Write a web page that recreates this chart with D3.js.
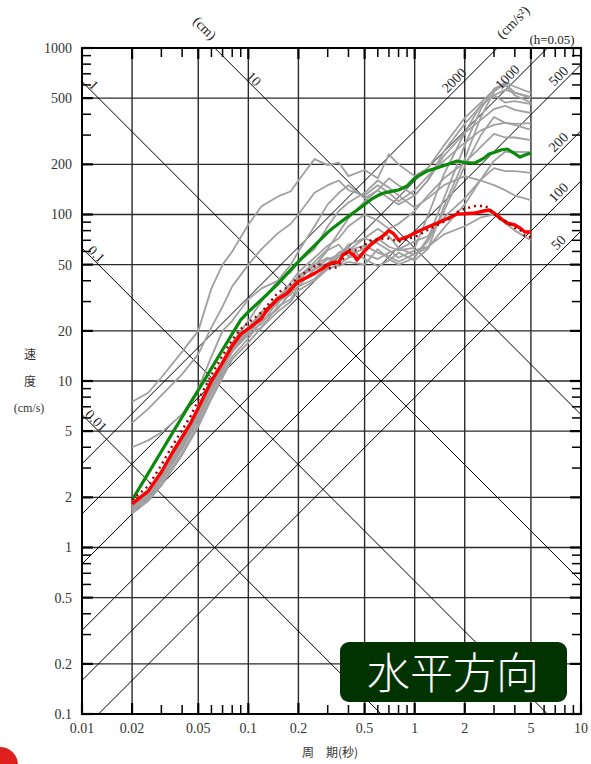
<!DOCTYPE html>
<html><head><meta charset="utf-8">
<script src="https://cdn.jsdelivr.net/npm/d3@7"></script>
<style>body{margin:0;background:#fff}svg{display:block}</style>
</head><body>
<svg id="c" width="591" height="764"></svg>
<script>
// ---------------- data ----------------
const periodsFine = [0.02,0.025,0.03,0.035,0.04,0.045,0.05,0.06,0.07,0.08,0.09,0.1,0.11,0.12,0.13,0.15,0.17,0.2,0.22,0.25,0.28,0.3,0.32,0.35,0.37,0.4,0.43,0.45,0.5,0.55,0.6,0.65,0.7,0.75,0.8,0.9,1.0,1.2,1.4,1.6,1.8,2.0,2.3,2.6,2.8,3.0,3.3,3.6,4.0,4.3,4.6,5.0];
const greenValues = [1.93,2.79,3.77,4.88,6.08,7.40,8.80,11.9,15.4,19.2,23.3,26.0,28.4,30.8,33.2,38.2,43.8,52.1,57.4,65.1,73.0,78.1,82.4,88.3,92.0,97.4,102.8,106.1,114.7,123.6,129.9,134.6,136.7,138.6,140.3,148.3,165.6,183.3,192.1,201.1,209.6,205.3,203.9,217.3,230.8,235.7,244.0,247.4,231.8,221.4,227.7,234.1];
const redValues = [1.83,2.18,2.84,3.72,4.61,5.59,6.88,10.0,12.9,16.3,19.1,20.6,22.2,23.8,26.9,31.1,33.4,39.6,41.4,44.3,47.5,49.9,51.3,51.8,57.1,59.9,57.1,53.3,60.4,66.5,70.8,74.8,80.1,76.4,70.3,73.3,77.4,84.1,89.7,95.3,100.7,101,102,105,106.4,102,94.5,88.9,86.5,83,78.5,78.5];
const dottedValues = [1.93,2.34,3.13,4.10,5.08,6.16,7.69,10.9,14.2,17.7,20.5,22.4,24.1,25.9,28.4,33.8,36.3,41.9,45.0,48.8,50.9,47.9,47.2,49.0,54.0,61.6,60.4,61.2,65.7,70.3,70.8,71.7,71.7,70.3,68.4,71.3,73.2,80.7,87.3,94.0,103.5,108.3,112.4,112.6,109.4,100.6,93.2,90.1,83.0,80.8,74.3,73.2];

const grayPeriods = [0.02,0.025,0.03,0.04,0.05,0.06,0.07,0.08,0.1,0.12,0.15,0.18,0.2,0.25,0.3,0.35,0.4,0.5,0.6,0.7,0.8,1.0,1.2,1.5,2,2.5,3,3.5,4,5];
const gray1 = [1.7,2.0,2.5,3.9,5.8,8.5,11.5,15,19.5,25,29,37,40,50,55,49,52,50,62,54,50,55,72,125,260,430,570,610,540,508];
const gray2 = [1.75,2.05,2.6,4.1,6.0,8.8,12,15.5,20,22,30,33,43,49,61,66,56,63,72,64,61,63,98,175,310,455,520,470,480,460];
const gray3 = [1.65,1.95,2.4,3.7,5.5,8.0,11,14,18,23,27,34,37,47,51,59,63,54,49,53,59,53,62,112,215,385,545,625,585,537];
const gray4 = [1.8,2.1,2.7,4.3,6.4,9.2,12,15,19,21,28,31,37,41,49,56,61,72,82,74,63,57,69,105,195,300,385,355,345,322];
const gray5 = [1.7,2.0,2.55,4.0,6.1,9.0,12.5,16,21,26,31,39,45,55,65,72,85,100,92,82,88,105,130,165,205,255,305,290,290,280];
const gray6 = [1.6,1.9,2.35,3.6,5.3,7.8,10.5,13.5,17,21,26,30,35,40,47,50,55,58,54,59,62,69,74,96,125,162,190,182,182,178];
const gray7 = [1.75,2.1,2.7,4.4,6.6,9.5,12.5,16,20,24,31,35,40,44,51,56,66,72,67,61,55,61,64,76,85,96,100,89,80,70];
const gray8 = [1.7,2.05,2.6,4.2,6.2,9.0,12,15.5,19.5,24,30,37,42,52,62,78,95,120,140,125,115,130,160,225,310,370,430,450,425,407];
const gray9 = [1.8,2.15,2.75,4.5,6.7,9.6,12.8,16.5,21,25,32,36,43,47,54,57,61,65,59,56,52,58,63,83,115,162,210,238,238,237];
const gray10 = [7.5,8.5,10.5,15,20,36,50,60,87,112,128,138,160,215,198,205,170,185,165,230,200,170,190,260,380,470,560,600,520,470];
const gray11 = [5.6,6.8,8.2,11,14.5,21,28,37,50,62,77,88,100,135,150,160,140,130,150,135,120,140,170,210,270,320,345,355,350,354];
const gray12 = [4.0,4.4,4.9,6.3,9.0,14,20,23,31,36,40,45,52,62,85,105,118,135,160,145,130,110,125,150,170,160,150,140,130,122];
const gray13 = [1.75,2.1,2.65,4.3,6.5,9.5,13,17,23,30,40,50,60,85,115,135,150,125,140,165,150,130,160,240,350,450,520,560,540,500];

const xTickLabels = ["0.01","0.02","0.05","0.1","0.2","0.5","1","2","5","10"];
const yTickLabels = ["0.1","0.2","0.5","1","2","5","10","20","50","100","200","500","1000"];
const dispLines = [0.01,0.1,1,10];          // cm
const accLines = [50,100,200,500,1000,2000]; // cm/s^2
const titleBox = "水平方向";

// ---------------- layout ----------------
const L=82,R=581,T=48,B=714;
const svg = d3.select("#c");
const x = d3.scaleLog().domain([0.01,10]).range([L,R]);
const y = d3.scaleLog().domain([0.1,1000]).range([B,T]);
const serif = "'Liberation Serif','DejaVu Serif',serif";
const cjk = "'Noto Sans CJK JP','Noto Sans CJK SC',sans-serif";

svg.append("defs").append("clipPath").attr("id","plot")
  .append("rect").attr("x",L).attr("y",T).attr("width",R-L).attr("height",B-T);

// grid
const xv = xTickLabels.map(Number), yv = yTickLabels.map(Number);
const grid = svg.append("g").attr("stroke","#2a2a2a").attr("stroke-width",1.4);
xv.slice(1,-1).forEach(v=>grid.append("line").attr("x1",x(v)).attr("x2",x(v)).attr("y1",T).attr("y2",B));
yv.slice(1,-1).forEach(v=>grid.append("line").attr("y1",y(v)).attr("y2",y(v)).attr("x1",L).attr("x2",R));

// diagonal lines
const diag = svg.append("g").attr("clip-path","url(#plot)").attr("stroke","#000").attr("stroke-width",1).attr("fill","none");
const line = d3.line().x(d=>x(d[0])).y(d=>y(d[1]));
const Tends = [0.001,100];
dispLines.forEach(D=>diag.append("path").attr("d",line(Tends.map(t=>[t,2*Math.PI*D/t]))));
accLines.forEach(A=>diag.append("path").attr("d",line(Tends.map(t=>[t,A*t/(2*Math.PI)]))));

// curves
const curves = svg.append("g").attr("clip-path","url(#plot)").attr("fill","none").attr("stroke-linejoin","round");
[gray1,gray2,gray3,gray4,gray5,gray6,gray7,gray8,gray9,gray10,gray11,gray12,gray13].forEach(s=>{
  curves.append("path").attr("d",line(grayPeriods.map((p,i)=>[p,s[i]])))
    .attr("stroke","#a0a0a0").attr("stroke-width",1.8);
});
curves.append("path").attr("d",line(periodsFine.map((p,i)=>[p,greenValues[i]])))
  .attr("stroke","#0a8a0a").attr("stroke-width",3.2);
curves.append("path").attr("d",line(periodsFine.map((p,i)=>[p,redValues[i]])))
  .attr("stroke","#ff0000").attr("stroke-width",3.4);
curves.append("path").attr("d",line(periodsFine.map((p,i)=>[p,dottedValues[i]])))
  .attr("stroke","#9a0000").attr("stroke-width",2.4).attr("stroke-dasharray","2,4");

// frame
svg.append("rect").attr("x",L).attr("y",T).attr("width",R-L).attr("height",B-T)
  .attr("fill","none").attr("stroke","#000").attr("stroke-width",2);

// ticks (minor inside, all four sides)
const ticks = svg.append("g").attr("stroke","#000").attr("stroke-width",1.5);
const minorVals = [];
[0.01,0.1,1].forEach(d=>[3,4,6,7,8,9].forEach(m=>minorVals.push(d*m)));
const minorY = [];
[0.1,1,10,100].forEach(d=>[3,4,6,7,8,9].forEach(m=>minorY.push(d*m)));
const tl = 9;
minorVals.forEach(v=>{
  ticks.append("line").attr("x1",x(v)).attr("x2",x(v)).attr("y1",B).attr("y2",B-tl);
  ticks.append("line").attr("x1",x(v)).attr("x2",x(v)).attr("y1",T).attr("y2",T+tl);
});
minorY.forEach(v=>{
  ticks.append("line").attr("y1",y(v)).attr("y2",y(v)).attr("x1",L).attr("x2",L+tl);
  ticks.append("line").attr("y1",y(v)).attr("y2",y(v)).attr("x1",R).attr("x2",R-tl);
});
const major = svg.append("g").attr("stroke","#000").attr("stroke-width",2.2);
xv.forEach(v=>{
  major.append("line").attr("x1",x(v)).attr("x2",x(v)).attr("y1",B).attr("y2",B-11);
  major.append("line").attr("x1",x(v)).attr("x2",x(v)).attr("y1",T).attr("y2",T+11);
});
yv.forEach(v=>{
  major.append("line").attr("y1",y(v)).attr("y2",y(v)).attr("x1",L).attr("x2",L+11);
  major.append("line").attr("y1",y(v)).attr("y2",y(v)).attr("x1",R).attr("x2",R-11);
});

// tick labels
const lab = svg.append("g").attr("font-family",serif).attr("font-size",14).attr("fill","#333");
xTickLabels.forEach(t=>lab.append("text").attr("x",x(+t)).attr("y",733).attr("text-anchor","middle").text(t));
yTickLabels.forEach(t=>lab.append("text").attr("x",72).attr("y",y(+t)).attr("dy","0.35em").attr("text-anchor","end").text(t));

// diagonal labels
const dl = svg.append("g").attr("font-family",serif).attr("font-size",14).attr("fill","#222");
dispLines.forEach(D=>{
  const tx = D===10 ? 0.108 : (D===1 ? 0.0118 : 0.0122);
  const px = x(tx), py = y(2*Math.PI*D/tx) - 8.5;
  dl.append("text").attr("transform",`translate(${px},${py}) rotate(45)`)
    .attr("text-anchor","middle").attr("dy","0.35em").text(String(D));
});
accLines.forEach(A=>{
  const tx = A===2000 ? 1.72 : (A===1000 ? 3.6 : 7.3);
  const px = x(tx), py = y(A*tx/(2*Math.PI)) - 11.5;
  dl.append("text").attr("transform",`translate(${px},${py}) rotate(-45)`)
    .attr("text-anchor","middle").attr("dy","0.35em").text(String(A));
});
dl.append("text").attr("transform","translate(205,28) rotate(45)").attr("text-anchor","middle").attr("dy","0.35em").text("(cm)");
dl.append("text").attr("transform","translate(513,22) rotate(-45)").attr("text-anchor","middle").attr("dy","0.35em").text("(cm/s²)");
dl.append("text").attr("x",552).attr("y",39).attr("text-anchor","middle").attr("dy","0.35em").attr("font-size",13).text("(h=0.05)");

// axis titles
const at = svg.append("g").attr("fill","#333");
at.append("text").attr("x",330).attr("y",753).attr("dy","0.35em").attr("text-anchor","middle")
  .attr("font-family",cjk).attr("font-size",12).text("周　期(秒)");
at.append("text").attr("x",30).attr("y",355).attr("dy","0.35em").attr("text-anchor","middle")
  .attr("font-family",cjk).attr("font-size",12).text("速");
at.append("text").attr("x",30).attr("y",382).attr("dy","0.35em").attr("text-anchor","middle")
  .attr("font-family",cjk).attr("font-size",12).text("度");
at.append("text").attr("x",29).attr("y",408).attr("dy","0.35em").attr("text-anchor","middle")
  .attr("font-family",serif).attr("font-size",12).text("(cm/s)");

// title box
svg.append("rect").attr("x",340).attr("y",642).attr("width",227).attr("height",60).attr("rx",9)
  .attr("fill","#003300");
svg.append("text").attr("x",453).attr("y",674).attr("dy","0.36em").attr("text-anchor","middle")
  .attr("font-family",cjk).attr("font-size",43).attr("font-weight",300).attr("fill","#fff").text(titleBox);

// decorative red mark bottom-left
svg.append("circle").attr("cx",0).attr("cy",765).attr("r",18).attr("fill","#e0201c");
</script>
</body></html>
